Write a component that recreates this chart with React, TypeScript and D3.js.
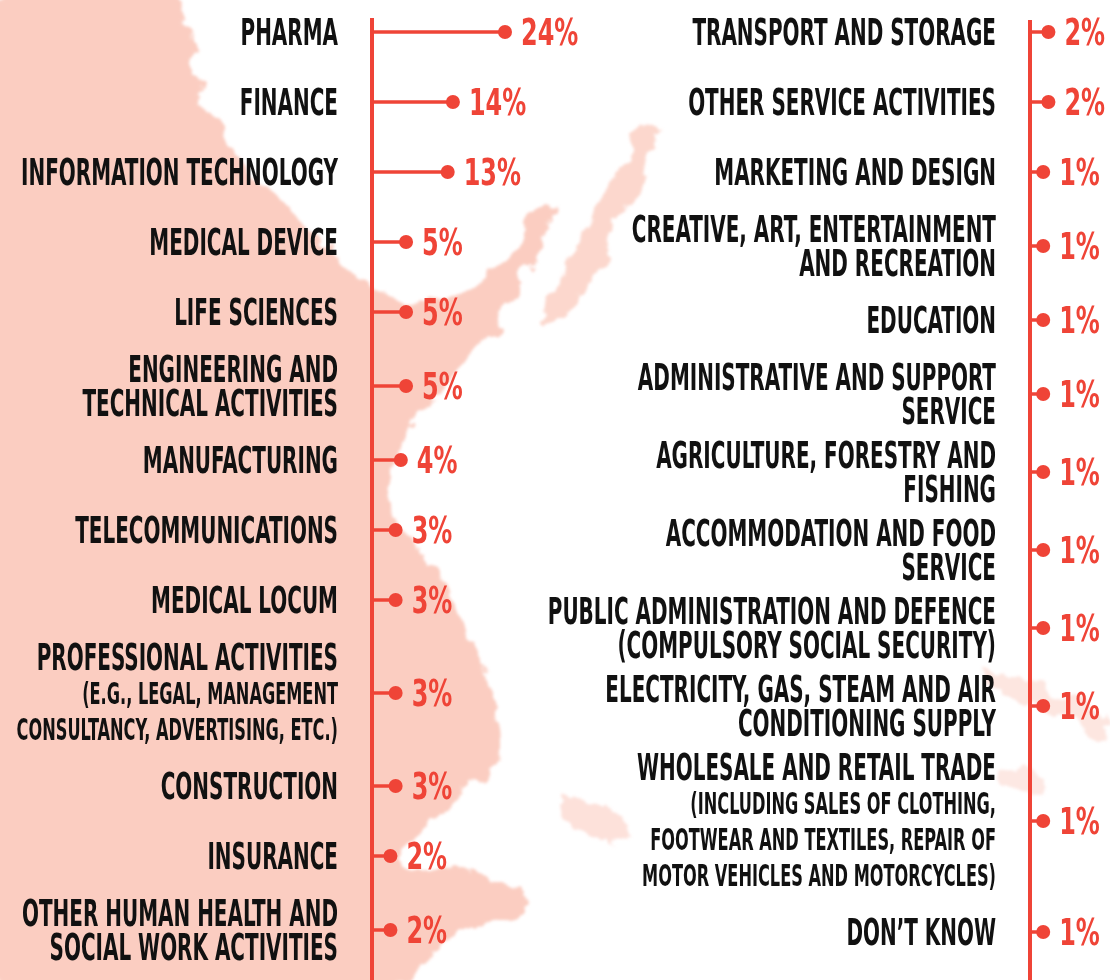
import React from "react";
import * as d3 from "d3";

// left column
const leftLines = [
  ["PHARMA"],
  ["FINANCE"],
  ["INFORMATION TECHNOLOGY"],
  ["MEDICAL DEVICE"],
  ["LIFE SCIENCES"],
  ["ENGINEERING AND", "TECHNICAL ACTIVITIES"],
  ["MANUFACTURING"],
  ["TELECOMMUNICATIONS"],
  ["MEDICAL LOCUM"],
  ["PROFESSIONAL ACTIVITIES"],
  ["CONSTRUCTION"],
  ["INSURANCE"],
  ["OTHER HUMAN HEALTH AND", "SOCIAL WORK ACTIVITIES"]
];
const leftSubLines = [
  [], [], [], [], [], [], [], [], [],
  ["(E.G., LEGAL, MANAGEMENT", "CONSULTANCY, ADVERTISING, ETC.)"],
  [], [], []
];
const leftValues = [24, 14, 13, 5, 5, 5, 4, 3, 3, 3, 3, 2, 2];

// right column
const rightLines = [
  ["TRANSPORT AND STORAGE"],
  ["OTHER SERVICE ACTIVITIES"],
  ["MARKETING AND DESIGN"],
  ["CREATIVE, ART, ENTERTAINMENT", "AND RECREATION"],
  ["EDUCATION"],
  ["ADMINISTRATIVE AND SUPPORT", "SERVICE"],
  ["AGRICULTURE, FORESTRY AND", "FISHING"],
  ["ACCOMMODATION AND FOOD", "SERVICE"],
  ["PUBLIC ADMINISTRATION AND DEFENCE", "(COMPULSORY SOCIAL SECURITY)"],
  ["ELECTRICITY, GAS, STEAM AND AIR", "CONDITIONING SUPPLY"],
  ["WHOLESALE AND RETAIL TRADE"],
  ["DON\u2019T KNOW"]
];
const rightSubLines = [
  [], [], [], [], [], [], [], [], [], [],
  ["(INCLUDING SALES OF CLOTHING,", "FOOTWEAR AND TEXTILES, REPAIR OF", "MOTOR VEHICLES AND MOTORCYCLES)"],
  []
];
const rightValues = [2, 2, 1, 1, 1, 1, 1, 1, 1, 1, 1, 1];

const RED = "#ef4437";
const PINK = "#fbcdc1";
const FONT = "'DejaVu Sans Condensed', 'DejaVu Sans', sans-serif";
const MAIN_PITCH = 34;
const SUB_PITCH = 36;
const SX = 0.6; // squeeze the labels to match the condensed display face
const VX = 0.72;

function layoutRows(lines, subs, firstY) {
  const heights = lines.map((l, i) =>
    Math.max(70, l.length * MAIN_PITCH + subs[i].length * SUB_PITCH + 10)
  );
  const ys = [firstY];
  for (let i = 1; i < heights.length; i++) {
    ys.push(ys[i - 1] + (heights[i - 1] + heights[i]) / 2);
  }
  return ys;
}

function Column({ lines, subs, values, axisX, labelX, x, top }) {
  const ys = layoutRows(lines, subs, 32);
  return (
    <g>
      <line x1={axisX} x2={axisX} y1={top} y2={980} stroke={RED} strokeWidth={4} />
      {values.map((v, i) => {
        const cy = ys[i];
        const blockH = lines[i].length * MAIN_PITCH + subs[i].length * SUB_PITCH;
        const blockTop = cy - blockH / 2;
        const dx = axisX + x(v);
        return (
          <g key={i}>
            {lines[i].map((t, j) => (
              <text
                key={"m" + j}
                transform={`translate(${labelX},${blockTop + j * MAIN_PITCH + 30}) scale(${SX},1)`}
                textAnchor="end"
                fontFamily={FONT}
                fontWeight="bold"
                fontSize={37}
                fill="#111"
              >
                {t}
              </text>
            ))}
            {subs[i].map((t, j) => (
              <text
                key={"s" + j}
                transform={`translate(${labelX},${blockTop + lines[i].length * MAIN_PITCH + j * SUB_PITCH + 30}) scale(${SX},1)`}
                textAnchor="end"
                fontFamily={FONT}
                fontWeight="bold"
                fontSize={30}
                fill="#111"
              >
                {t}
              </text>
            ))}
            <line x1={axisX} x2={dx} y1={cy} y2={cy} stroke={RED} strokeWidth={3.5} />
            <circle cx={dx} cy={cy} r={7} fill={RED} />
            <text
              transform={`translate(${dx + 16},${cy + 13}) scale(${VX},1)`}
              fontFamily={FONT}
              fontWeight="bold"
              fontSize={37}
              fill={RED}
            >
              {v + "%"}
            </text>
          </g>
        );
      })}
    </g>
  );
}

const mass = [
  [0, 0], [175, 0], [190, 40], [205, 100], [230, 150], [275, 200], [330, 250], [360, 280],
  [400, 300], [460, 300], [495, 270], [525, 230], [550, 200], [540, 245], [500, 320],
  [440, 390], [400, 450], [392, 520], [420, 545], [445, 590], [470, 640], [495, 700],
  [500, 760], [470, 790], [420, 830], [400, 860], [450, 866], [510, 885], [525, 915],
  [470, 930], [420, 960], [400, 980], [0, 980]
];
const stroke1 = [
  [540, 330], [560, 280], [590, 220], [620, 165], [645, 130], [656, 128], [646, 170],
  [618, 230], [590, 280], [560, 320]
];
const stroke2 = [[985, 668], [1050, 690], [1110, 715], [1110, 735], [1050, 712], [990, 685]];
const stroke3 = [[998, 770], [1035, 772], [1045, 790], [1005, 788]];
const stroke4 = [[560, 800], [600, 805], [630, 835], [600, 840], [565, 820]];

export default function App() {
  const x = d3.scaleLinear().domain([0, 24]).range([8, 133]);
  const line = d3.line().curve(d3.curveCatmullRomClosed.alpha(0.5));
  return (
    <svg width={1110} height={980} style={{ position: "absolute", left: 0, top: 0, background: "#fff" }}>
      <defs>
        <filter id="rough" x="-10%" y="-10%" width="120%" height="120%">
          <feTurbulence type="fractalNoise" baseFrequency="0.035" numOctaves={4} seed={3} />
          <feDisplacementMap in="SourceGraphic" scale={28} xChannelSelector="R" yChannelSelector="G" />
          <feGaussianBlur stdDeviation={1.5} />
        </filter>
      </defs>
      <g filter="url(#rough)" fill={PINK}>
        <path d={line(mass)} />
        <path d={line(stroke1)} opacity={0.8} />
        <path d={line(stroke2)} opacity={0.5} />
        <path d={line(stroke3)} opacity={0.45} />
        <path d={line(stroke4)} opacity={0.6} />
      </g>
      <Column lines={leftLines} subs={leftSubLines} values={leftValues} axisX={372} labelX={338} x={x} top={18} />
      <Column lines={rightLines} subs={rightSubLines} values={rightValues} axisX={1030} labelX={996} x={x} top={20} />
    </svg>
  );
}
